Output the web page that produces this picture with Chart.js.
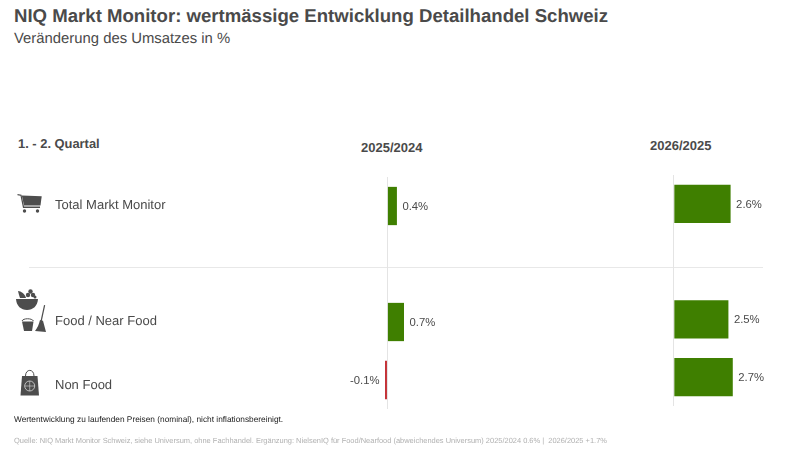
<!DOCTYPE html>
<html lang="de">
<head>
<meta charset="utf-8">
<title>NIQ Markt Monitor</title>
<script src="https://cdn.jsdelivr.net/npm/chart.js@4"></script>
<style>
  html, body { margin: 0; padding: 0; background: #fff; }
  body { width: 800px; height: 450px; position: relative; overflow: hidden; text-rendering: geometricPrecision;
         font-family: "Liberation Sans", Arial, sans-serif; color: #4a4a4a; }
  .txt { position: absolute; white-space: nowrap; line-height: 1; }
  canvas { position: absolute; }
  #divider { position: absolute; left: 29px; top: 267px; width: 734px; height: 1px; background: #e8e8e8; }
  #icons { position: absolute; left: 0; top: 0; }
</style>
</head>
<body>
<div class="txt" style="left:14px;top:7px;font-size:18.6px;font-weight:bold">NIQ Markt Monitor: wertmässige Entwicklung Detailhandel Schweiz</div>
<div class="txt" style="left:14px;top:32px;font-size:14.85px">Veränderung des Umsatzes in %</div>
<div class="txt" style="left:18px;top:138px;font-size:12.9px;font-weight:bold">1. - 2. Quartal</div>
<div class="txt" id="head1" style="left:361px;top:141px;font-size:13px;font-weight:bold"></div>
<div class="txt" id="head2" style="left:650px;top:139px;font-size:13px;font-weight:bold"></div>

<div id="divider"></div>
<canvas id="chart2025" style="left:340px;top:177px"></canvas>
<canvas id="chart2026" style="left:652px;top:175px"></canvas>

<svg id="icons" width="800" height="450" fill="#4d4d4d">
  <!-- cart -->
  <path d="M17.5 194 L21.5 194.7 L24 206.5 L40 206.5 L40 208 L23 208 L20.5 195.8 L17.5 195.2 Z"/>
  <path d="M21.8 195.6 L41.7 196.2 L40.5 205.6 L24 205.6 Z"/>
  <circle cx="24.5" cy="211" r="1.7"/><circle cx="37.5" cy="211" r="1.7"/>
  <!-- fruit bowl -->
  <path d="M16 299 L38 299 C37.5 306 33 310 27 310 C21 310 16.5 306 16 299 Z"/>
  <path d="M18 291 C21 291 25 294 26 298 L20 298 C19 295 18.5 293 18 291 Z"/>
  <circle cx="28" cy="295" r="2.2"/><circle cx="33" cy="295" r="2.2"/><circle cx="30.5" cy="291.5" r="2.2"/><circle cx="35" cy="297" r="1.5"/>
  <!-- bucket and broom -->
  <path d="M22 321.5 L33.5 321.5 L32 331 L24 331 Z"/>
  <path d="M22 321 C23 318 32 318 33.5 321" fill="none" stroke="#4d4d4d" stroke-width="1"/>
  <path d="M44 305 L45.2 305.2 L41.8 321 L40.6 320.8 Z"/>
  <path d="M40 320 L43 320.8 L46 332 L35 331 C37.5 328 39 324 40 320 Z"/>
  <!-- bag with globe -->
  <path d="M22 376 L37.5 376 L39 395.5 L20.5 395.5 Z"/>
  <path d="M25.5 376 C25.5 368.5 34 368.5 34 376" fill="none" stroke="#4d4d4d" stroke-width="1"/>
  <circle cx="29.7" cy="386" r="5" fill="none" stroke="#d8d8d8" stroke-width="0.8"/>
  <path d="M24.7 386 H34.7 M29.7 381 V391" stroke="#d8d8d8" stroke-width="0.6"/>
</svg>

<div class="txt" style="left:14px;top:415px;font-size:8.3px;color:#222">Wertentwicklung zu laufenden Preisen (nominal), nicht inflationsbereinigt.</div>
<div class="txt" style="left:14px;top:437px;font-size:7.46px;color:#b0b0b0">Quelle: NIQ Markt Monitor Schweiz, siehe Universum, ohne Fachhandel. Ergänzung: NielsenIQ für Food/Nearfood (abweichendes Universum) 2025/2024 0.6% |&nbsp; 2026/2025 +1.7%</div>

<script>
// blank row is the gap where the divider sits
const categories = ["Total Markt Monitor", "", "Food / Near Food", "Non Food"];
const values2025 = [0.4, null, 0.7, -0.1];
const values2026 = [2.6, null, 2.5, 2.7];
const columnLabels = ["2025/2024", "2026/2025"];

const labelTops = [198, null, 314, 378];
const green = "#3f7f00";
const red = "#c1272d";

document.getElementById("head1").textContent = columnLabels[0];
document.getElementById("head2").textContent = columnLabels[1];

categories.forEach((name, i) => {
  if (!name) return;
  const el = document.createElement("div");
  el.className = "txt";
  el.style.cssText = "left:55px;font-size:13px;top:" + labelTops[i] + "px";
  el.textContent = name;
  document.body.appendChild(el);
});

/* --------------- value labels next to the bars --------------------- */
const barLabels = {
  id: "barLabels",
  afterDatasetsDraw(chart) {
    const ctx = chart.ctx;
    const meta = chart.getDatasetMeta(0);
    ctx.save();
    ctx.font = '11.3px "Liberation Sans", Arial, sans-serif';
    ctx.fillStyle = "#4a4a4a";
    ctx.textBaseline = "middle";
    chart.data.datasets[0].data.forEach((v, i) => {
      if (v === null) return;
      const bar = meta.data[i];
      ctx.textAlign = v < 0 ? "right" : "left";
      ctx.fillText(v.toFixed(1) + "%", bar.x + (v < 0 ? -5.5 : 5.5), bar.y + 1);
    });
    ctx.restore();
  },
};

function makeChart(id, values, w, h, xMin, xMax) {
  const canvas = document.getElementById(id);
  canvas.width = w;
  canvas.height = h;
  return new Chart(canvas, {
    type: "bar",
    plugins: [barLabels],
    data: {
      labels: categories,
      datasets: [{
        data: values,
        backgroundColor: values.map((v) => (v < 0 ? red : green)),
        barPercentage: 0.66,
        categoryPercentage: 1,
      }],
    },
    options: {
      indexAxis: "y",
      responsive: false,
      animation: false,
      plugins: { legend: { display: false }, tooltip: { enabled: false } },
      scales: {
        x: {
          min: xMin,
          max: xMax,
          border: { display: false },
          ticks: { display: false, stepSize: 1 },
          grid: {
            drawTicks: false,
            color: (c) => (c.tick && c.tick.value === 0 ? "#e4e4e4" : "transparent"),
          },
        },
        y: { display: false },
      },
    },
  });
}

makeChart("chart2025", values2025, 166, 232, -2, 5);
makeChart("chart2026", values2026, 131, 231, -1, 5);
</script>
</body>
</html>
